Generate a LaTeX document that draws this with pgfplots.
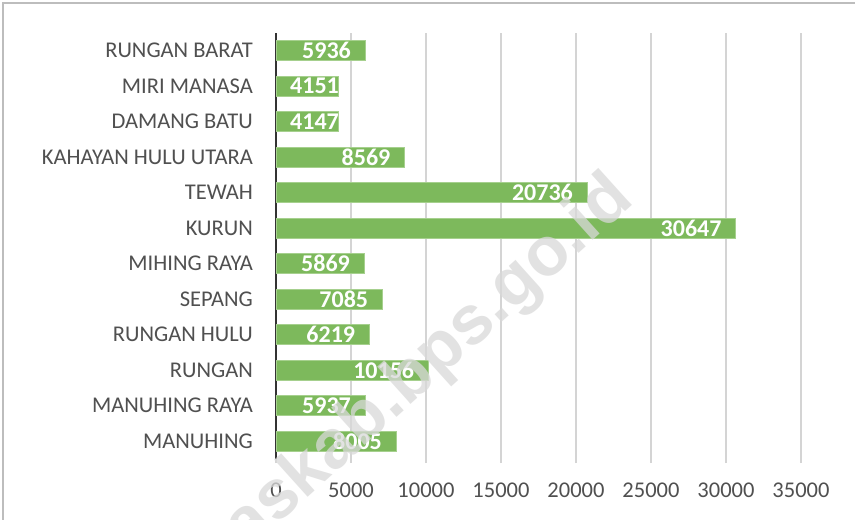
\documentclass[border=0pt]{standalone}
\usepackage{pgfplots}
\pgfplotsset{compat=1.18}
\usepackage{pgfplotstable}
\usepackage{fontspec}
\setmainfont{Carlito}
\newfontfamily\wmfont{Liberation Sans}
\definecolor{barfill}{HTML}{7DB95C}
\definecolor{baredge}{HTML}{A6D08E}
\definecolor{txtgray}{HTML}{505050}
\definecolor{gridgray}{HTML}{D4D4D4}
\definecolor{framegray}{HTML}{BDBDBD}

\pgfplotstableread{
y val
0 8005
1 5937
2 10156
3 6219
4 7085
5 5869
6 30647
7 20736
8 8569
9 4147
10 4151
11 5936
}\bardata

\pgfplotstableread{
y val lab
0 8005 8005
1 5937 5937
2 10156 10156
3 6219 6219
4 7085 7085
5 5869 5869
6 30647 30647
7 20736 20736
8 8569 8569
11 5936 5936
}\longlab

\pgfplotstableread{
y val lab
9 0 4147
10 0 4151
}\shortlab

\begin{document}
\begin{tikzpicture}
\path[use as bounding box] (0,0) rectangle (855bp,520bp);
\fill[white] (0,0) rectangle (855bp,520bp);
\draw[framegray, line width=1.5bp] (3bp,-5bp) -- (3bp,517bp) -- (860bp,517bp);
\begin{axis}[
  at={(276bp,61bp)}, anchor=south west,
  scale only axis, width=525bp, height=426bp,
  xmin=0, xmax=35000, ymin=-0.5, ymax=11.5,
  xtick={0,5000,...,35000},
  ytick={0,...,11},
  yticklabels={MANUHING,MANUHING RAYA,RUNGAN,RUNGAN HULU,SEPANG,MIHING RAYA,KURUN,TEWAH,KAHAYAN HULU UTARA,DAMANG BATU,MIRI MANASA,RUNGAN BARAT},
  scaled x ticks=false,
  /pgf/number format/assume math mode=true,
  /pgf/number format/1000 sep={},
  xmajorgrids, major grid style={gridgray, line width=1.6bp},
  axis lines*=left,
  x axis line style={draw=none},
  y axis line style={draw=black!80, line width=2.6bp, -},
  tick align=outside,
  major tick length=4bp,
  xtick style={gridgray, line width=1.6bp},
  ytick style={draw=none},
  tick label style={font=\fontsize{22.5bp}{26bp}\selectfont, text=txtgray},
  xticklabel style={anchor=center, yshift=-27bp},
  yticklabel style={anchor=east, inner sep=0pt, xshift=-19bp},
  clip=false,
]
\addplot[xbar, bar width=20bp, fill=barfill, draw=baredge, line width=0.8bp] table[x=val, y=y] {\bardata};
\addplot[draw=none, mark=none, nodes near coords, point meta=explicit symbolic,
  every node near coord/.style={anchor=east, xshift=-14bp, inner sep=0pt, text=white, font=\bfseries\fontsize{24bp}{26bp}\selectfont}]
  table[x=val, y=y, meta=lab] {\longlab};
\addplot[draw=none, mark=none, nodes near coords, point meta=explicit symbolic,
  every node near coord/.style={anchor=west, xshift=14bp, inner sep=0pt, text=white, font=\bfseries\fontsize{24bp}{26bp}\selectfont}]
  table[x=val, y=y, meta=lab] {\shortlab};
\end{axis}
\begin{scope}
\clip (0,0) rectangle (855bp,520bp);
\node[rotate=42, text=black!15, opacity=0.75, font=\wmfont\bfseries\fontsize{69bp}{71bp}\selectfont, inner sep=0pt] at (313bp,51bp) {gunungmaskab.bps.go.id};
\end{scope}
\end{tikzpicture}
\end{document}
